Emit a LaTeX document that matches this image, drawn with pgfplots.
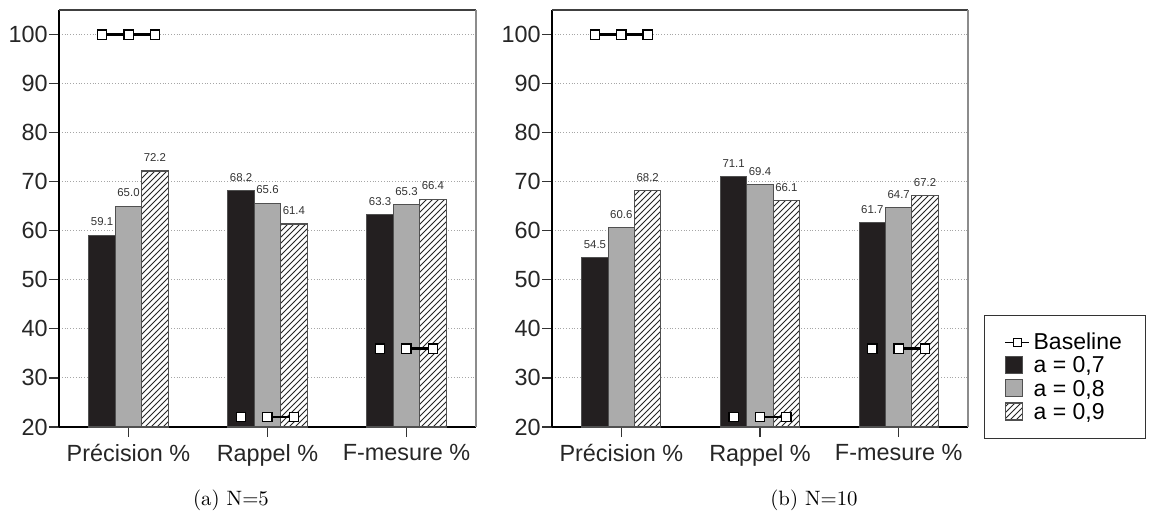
\documentclass[border=0pt]{standalone}
\usepackage{fontspec}
\newfontfamily\arial{Liberation Sans}
\usepackage{pgfplots}
\pgfplotsset{compat=1.18}
\usetikzlibrary{patterns}

\definecolor{barblack}{HTML}{231F20}
\definecolor{bargray}{HTML}{ABABAB}
\definecolor{edgegray}{HTML}{505050}

\pgfplotsset{
  resbar/.style={
    width=208.5pt, height=208.5pt, scale only axis,
    xmin=-0.5, xmax=2.5, ymin=20, ymax=105,
    xtick={0,1,2},
    xticklabels={Précision \%, Rappel \%, F-mesure \%},
    ytick={20,30,...,100},
    axis lines*=left,
    tick align=outside,
    major tick length=5pt,
    tick style={black!80, line width=0.6pt},
    axis line style={black, line width=0.8pt},
    ymajorgrids,
    grid style={densely dotted, black!35, line width=0.5pt},
    tick label style={font=\arial\fontsize{11.7}{13}\selectfont, text=black!85},
    yticklabel style={inner xsep=0.5pt},
    /pgf/number format/assume math mode=true,
    unbounded coords=jump,
    after end axis/.code={
      \draw[black!75, line width=0.8pt] (rel axis cs:0,1) -- (rel axis cs:1,1);
      \draw[black!45, line width=1pt] (rel axis cs:1,1) -- (rel axis cs:1,0);
    },
  },
  barlab/.style={
    nodes near coords={\pgfmathprintnumber[fixed, fixed zerofill, precision=1, assume math mode=true]{\pgfplotspointmeta}},
    every node near coord/.append style={font=\arial\fontsize{5.7}{6}\selectfont, text=black!80, yshift=1pt},
  },
  sq/.style={legend image code/.code={\draw[##1] (0pt,-4.25pt) rectangle (8.5pt,4.25pt);}},
  % bars are placed at their own x (group centre -0.19, 0, +0.19)
  b07/.style={ybar, bar width=0.19, bar shift=0, fill=barblack, draw=edgegray, line width=0.6pt, barlab, sq},
  b08/.style={ybar, bar width=0.19, bar shift=0, fill=bargray, draw=edgegray, line width=0.6pt, barlab, sq},
  b09/.style={ybar, bar width=0.19, bar shift=0, fill=white, draw=edgegray, line width=0.6pt,
    postaction={pattern=north east lines, pattern color=black!85}, barlab, sq},
  baseline line/.style={black, line width=1.1pt, no marks, forget plot},
  baseline marks/.style={only marks, mark=square*, mark size=2.3pt,
    mark options={fill=white, draw=black, line width=0.6pt}, forget plot},
}

\begin{document}
\begin{tikzpicture}
\useasboundingbox (0,0) rectangle (576pt,-262pt);

% (a) N=5
\begin{axis}[resbar, at={(29.5pt,-213.5pt)}, anchor=south west]
\addplot[b07] coordinates {(-0.19,59.1) (0.81,68.2) (1.81,63.3)};
\addplot[b08] coordinates {(0,65.0) (1,65.6) (2,65.3)};
\addplot[b09] coordinates {(0.19,72.2) (1.19,61.4) (2.19,66.4)};
\addplot[baseline line] coordinates {(-0.19,100) (0,100) (0.19,100) (0.5,nan) (1,22) (1.19,22) (1.5,nan) (2,36) (2.19,36)};
\addplot[baseline marks] coordinates {(-0.19,100) (0,100) (0.19,100) (0.81,22) (1,22) (1.19,22) (1.81,36) (2,36) (2.19,36)};
\end{axis}

% (b) N=10
\begin{axis}[resbar, at={(276pt,-213.5pt)}, anchor=south west, width=208pt,
  legend style={at={(1.0385,-0.0288)}, anchor=south west,
    draw=black!80, line width=0.5pt, inner xsep=10pt, inner ysep=9pt,
    font=\arial\fontsize{11.5}{13}\selectfont, row sep=2.5pt,
    nodes={inner xsep=2pt, inner ysep=0pt, text height=8.3pt, text depth=0.5pt}},
  legend cell align=left]
\addlegendimage{legend image code/.code={
    \draw[black, line width=0.5pt] (0pt,0pt) -- (12pt,0pt);
    \draw[black, fill=white, line width=0.5pt] (4pt,-2pt) rectangle (8pt,2pt);}}
\addlegendentry{Baseline}
\addplot[b07] coordinates {(-0.19,54.5) (0.81,71.1) (1.81,61.7)};
\addlegendentry{a = 0,7}
\addplot[b08] coordinates {(0,60.6) (1,69.4) (2,64.7)};
\addlegendentry{a = 0,8}
\addplot[b09] coordinates {(0.19,68.2) (1.19,66.1) (2.19,67.2)};
\addlegendentry{a = 0,9}
\addplot[baseline line] coordinates {(-0.19,100) (0,100) (0.19,100) (0.5,nan) (1,22) (1.19,22) (1.5,nan) (2,36) (2.19,36)};
\addplot[baseline marks] coordinates {(-0.19,100) (0,100) (0.19,100) (0.81,22) (1,22) (1.19,22) (1.81,36) (2,36) (2.19,36)};
\end{axis}

\node[font=\fontsize{10.4}{12}\selectfont] at (115.5pt,-250pt) {(a) N=5};
\node[font=\fontsize{10.4}{12}\selectfont] at (407pt,-250pt) {(b) N=10};
\end{tikzpicture}
\end{document}
